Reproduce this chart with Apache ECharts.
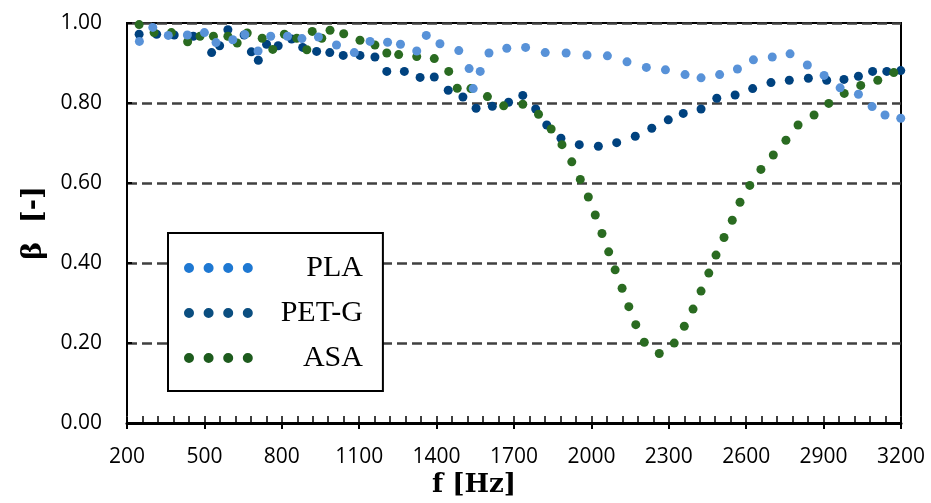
<!DOCTYPE html>
<html>
<head>
<meta charset="utf-8">
<script src="https://cdn.jsdelivr.net/npm/echarts@6/dist/echarts.min.js"></script>
<style>
  html, body { margin: 0; padding: 0; background: #fff; }
  #chart { width: 931px; height: 503px; }
</style>
</head>
<body>
<div id="chart"></div>
<script>
// frequency [Hz] and absorption coefficient beta
var plaF = [248, 300, 360, 434, 500, 545, 610, 657, 708, 757, 822, 878, 942, 1012, 1081, 1142, 1210, 1260, 1323, 1360,
    1413, 1486, 1526, 1542, 1569, 1603, 1672, 1745, 1821, 1902, 1983, 2062, 2138, 2213, 2287, 2363, 2425, 2497, 2566,
    2628, 2701, 2770, 2837, 2902, 2964, 3035, 3088, 3138, 3199];
var plaB = [0.954, 0.989, 0.969, 0.970, 0.976, 0.951, 0.958, 0.971, 0.930, 0.967, 0.967, 0.961, 0.965, 0.945, 0.926,
    0.954, 0.952, 0.947, 0.930, 0.969, 0.948, 0.931, 0.886, 0.836, 0.879, 0.925, 0.937, 0.939, 0.926, 0.925, 0.920,
    0.918, 0.903, 0.889, 0.883, 0.871, 0.863, 0.871, 0.885, 0.908, 0.915, 0.923, 0.895, 0.869, 0.838, 0.822, 0.791,
    0.770, 0.762];

var petgF = [247, 315, 383, 457, 528, 559, 591, 654, 682, 709, 741, 786, 838, 881, 935, 986, 1038, 1103, 1161, 1207,
    1275, 1336, 1391, 1445, 1502, 1553, 1616, 1679, 1734, 1784, 1827, 1882, 1953, 2027, 2098, 2170, 2234, 2298, 2356,
    2425, 2486, 2557, 2625, 2696, 2767, 2841, 2912, 2979, 3035, 3090, 3145, 3199];
var petgB = [0.972, 0.972, 0.970, 0.967, 0.926, 0.943, 0.983, 0.970, 0.928, 0.907, 0.947, 0.943, 0.960, 0.939, 0.929,
    0.926, 0.919, 0.919, 0.915, 0.879, 0.879, 0.864, 0.865, 0.832, 0.815, 0.787, 0.792, 0.802, 0.819, 0.785, 0.745,
    0.712, 0.696, 0.692, 0.701, 0.717, 0.737, 0.758, 0.774, 0.785, 0.812, 0.820, 0.836, 0.851, 0.857, 0.862, 0.857,
    0.859, 0.867, 0.879, 0.879, 0.881];

var asaF = [247, 305, 372, 435, 483, 535, 591, 627, 666, 724, 765, 810, 858, 897, 918, 955, 987, 1040, 1103, 1161,
    1207, 1253, 1323, 1391, 1447, 1480, 1533, 1597, 1660, 1734, 1795, 1844, 1886, 1924, 1957, 1988, 2015, 2041, 2067,
    2092, 2119, 2145, 2172, 2205, 2263, 2321, 2360, 2394, 2425, 2455, 2483, 2514, 2546, 2576, 2614, 2657, 2705, 2754,
    2801, 2863, 2920, 2980, 3044, 3110, 3172];
var asaB = [0.996, 0.976, 0.976, 0.953, 0.967, 0.967, 0.967, 0.950, 0.975, 0.962, 0.934, 0.972, 0.962, 0.933, 0.979,
    0.962, 0.982, 0.973, 0.957, 0.945, 0.925, 0.921, 0.916, 0.911, 0.879, 0.837, 0.836, 0.816, 0.793, 0.797, 0.772,
    0.735, 0.696, 0.653, 0.609, 0.565, 0.520, 0.474, 0.428, 0.383, 0.337, 0.291, 0.246, 0.202, 0.174, 0.200, 0.242,
    0.285, 0.330, 0.375, 0.420, 0.464, 0.507, 0.552, 0.594, 0.634, 0.670, 0.707, 0.745, 0.770, 0.799, 0.824, 0.844,
    0.857, 0.876];

var names = ['PLA', 'PET-G', 'ASA'];

function pairs(f, b) {
    var out = [];
    for (var i = 0; i < f.length; i++) {
        out.push([f[i], b[i]]);
    }
    return out;
}

// four round dots, like the Excel round-dot line sample
var dotsIcon = 'path://M-5,0a5,5 0 1,0 10,0a5,5 0 1,0 -10,0M14.6,0a5,5 0 1,0 10,0a5,5 0 1,0 -10,0' +
    'M34.2,0a5,5 0 1,0 10,0a5,5 0 1,0 -10,0M53.8,0a5,5 0 1,0 10,0a5,5 0 1,0 -10,0';

var chart = echarts.init(document.getElementById('chart'));
chart.setOption({
    animation: false,
    backgroundColor: '#fff',
    grid: {
        left: 127, right: 30, top: 23, bottom: 76,
        show: true, borderColor: '#000', borderWidth: 2, backgroundColor: 'transparent'
    },
    legend: {
        orient: 'vertical',
        left: 168, top: 233,
        padding: [20, 20, 18, 16],
        itemGap: 15,
        itemWidth: 69, itemHeight: 10,
        icon: dotsIcon,
        backgroundColor: '#fff',
        borderColor: '#000', borderWidth: 2,
        selectedMode: false,
        data: [
            { name: 'PLA', itemStyle: { color: '#1e78d2' } },
            { name: 'PET-G', itemStyle: { color: '#0b4e80' } },
            { name: 'ASA', itemStyle: { color: '#1d5b1d' } }
        ],
        formatter: function (n) { return '{t|' + n + '}'; },
        textStyle: {
            rich: {
                t: { width: 105, align: 'right', fontFamily: 'Liberation Serif', fontSize: 30, lineHeight: 30, color: '#000' }
            }
        }
    },
    xAxis: [{
        type: 'value',
        min: 200, max: 3200, interval: 300,
        name: 'f [Hz]',
        nameLocation: 'middle',
        nameGap: 48,
        nameTextStyle: { fontFamily: 'DejaVu Serif', fontWeight: 'bold', fontSize: 26, color: '#000', padding: [0, 80, 0, 0] },
        axisLine: { show: true, onZero: false, lineStyle: { color: '#000', width: 3 } },
        axisTick: { show: true, inside: false, length: 6, lineStyle: { color: '#000', width: 2 } },
        axisLabel: {
            margin: 23, fontFamily: 'Open Sans', fontSize: 21, color: '#000',
            formatter: function (v) { return String(v); }
        },
        splitLine: { show: false }
    }, {
        // small ticks every 60 Hz, shifted up so they sit inside the plot
        type: 'value',
        position: 'bottom',
        offset: -7,
        min: 200, max: 3200, interval: 60,
        axisLine: { show: true, onZero: false, lineStyle: { color: '#ffffff', width: 1 } },
        axisTick: { show: true, inside: false, length: 7, lineStyle: { color: '#000000', width: 1.5 } },
        axisLabel: { show: false },
        splitLine: { show: false }
    }],
    yAxis: {
        type: 'value',
        min: 0, max: 1, interval: 0.2,
        name: 'β  [-]',
        nameLocation: 'middle',
        nameGap: 80,
        nameTextStyle: { fontFamily: 'DejaVu Serif', fontWeight: 'bold', fontSize: 27, color: '#000' },
        axisLine: { show: true, lineStyle: { color: '#000', width: 2 } },
        axisTick: { show: true, inside: true, length: 5, lineStyle: { color: '#000', width: 2 } },
        axisLabel: {
            margin: 25, fontFamily: 'Open Sans', fontSize: 21, color: '#000',
            formatter: function (v) { return v.toFixed(2); }
        },
        splitLine: { show: true, lineStyle: { color: '#404040', width: 2.5, type: [10, 5] } }
    },
    series: [{
        name: names[0], type: 'scatter', z: 4,
        symbolSize: 9,
        itemStyle: { color: '#5892d8', opacity: 1 },
        data: pairs(plaF, plaB)
    }, {
        name: names[1], type: 'scatter', z: 2,
        symbolSize: 9,
        itemStyle: { color: '#00427f', opacity: 1 },
        data: pairs(petgF, petgB)
    }, {
        name: names[2], type: 'scatter', z: 3,
        symbolSize: 9,
        itemStyle: { color: '#2a6b21', opacity: 1 },
        data: pairs(asaF, asaB)
    }]
});
</script>
</body>
</html>
